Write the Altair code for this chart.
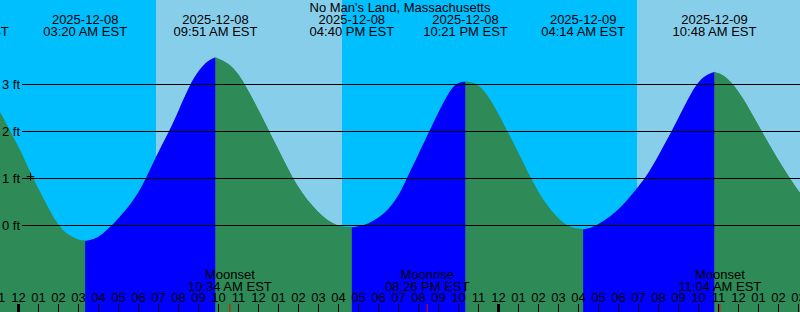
import altair as alt
import pandas as pd

FONT = "Liberation Sans"
TITLE = "No Man's Land, Massachusetts"

# hours after 2025-12-08 00:00 EST
X_DOMAIN = [-0.925, 39.075]
Y_DOMAIN = [-1.8404, 4.7979]   # feet

# tide extremes
ext_hours = [-2.6, 3.333, 9.85, 16.667, 22.35, 28.233, 34.8]
ext_dates = ["2025-12-07", "2025-12-08", "2025-12-08", "2025-12-08",
             "2025-12-08", "2025-12-09", "2025-12-09"]
ext_times = ["09:24 PM EST", "03:20 AM EST", "09:51 AM EST", "04:40 PM EST",
             "10:21 PM EST", "04:14 AM EST", "10:48 AM EST"]

# tide curve readings (hours, feet), one list per rising / falling stretch
seg_a_t = [-2.6, -2.0, -1.0, -0.425, 0.0, 0.725, 1.0, 1.925, 2.5, 3.0, 3.333]
seg_a_h = [3.10, 3.03, 2.51, 2.0, 1.68, 1.0, 0.78, 0.0, -0.21, -0.31, -0.33]
seg_b_t = [3.333, 3.8, 4.2, 4.66, 5.0, 5.575, 6.0, 6.375, 6.825, 7.54, 8.0, 8.575, 9.0, 9.5, 9.85]
seg_b_h = [-0.33, -0.29, -0.19, 0.0, 0.15, 0.43, 0.70, 1.0, 1.43, 2.0, 2.44, 3.0, 3.30, 3.52, 3.58]
seg_c_t = [9.85, 10.5, 11.0, 11.325, 12.075, 12.54, 13.0, 13.71, 14.2, 14.7, 15.2, 15.7, 16.2, 16.667]
seg_c_h = [3.58, 3.46, 3.22, 3.0, 2.40, 2.0, 1.61, 1.0, 0.68, 0.41, 0.19, 0.04, -0.03, -0.04]
seg_d_t = [16.667, 17.2, 17.7, 18.2, 18.575, 19.075, 19.41, 20.0, 20.54, 21.0, 21.5, 21.825, 22.1, 22.35]
seg_d_h = [-0.04, -0.01, 0.08, 0.23, 0.38, 0.68, 1.0, 1.52, 2.0, 2.42, 2.82, 3.0, 3.05, 3.06]
seg_e_t = [22.35, 22.65, 22.94, 23.3, 23.7, 24.1, 24.44, 25.075, 25.62, 26.0, 26.5, 27.0, 27.41, 27.8, 28.233]
seg_e_h = [3.06, 3.045, 3.0, 2.86, 2.6, 2.29, 2.0, 1.48, 1.0, 0.70, 0.38, 0.14, 0.0, -0.06, -0.085]
seg_f_t = [28.233, 28.55, 28.875, 29.4, 29.9, 30.4, 30.925, 31.325, 31.7, 32.075, 32.66, 33.3, 33.875, 34.3, 34.8]
seg_f_h = [-0.085, -0.06, 0.0, 0.13, 0.30, 0.52, 0.79, 1.0, 1.26, 1.55, 2.0, 2.55, 3.0, 3.19, 3.27]
seg_g_t = [34.8, 35.2, 35.775, 36.5, 37.16, 37.9, 38.575, 39.075, 39.6, 40.3, 41.2]
seg_g_h = [3.27, 3.22, 3.0, 2.52, 2.0, 1.45, 1.0, 0.685, 0.42, 0.12, -0.05]

segments = [(seg_a_t, seg_a_h), (seg_b_t, seg_b_h), (seg_c_t, seg_c_h), (seg_d_t, seg_d_h),
            (seg_e_t, seg_e_h), (seg_f_t, seg_f_h), (seg_g_t, seg_g_h)]

# daylight
sunrise_hours = [6.875, 30.925]
sunset_hours = [16.175, 40.2]

# moon
moon_events = ["Moonset", "Moonrise", "Moonset"]
moon_times = ["10:34 AM EST", "08:26 PM EST", "11:04 AM EST"]
moon_hours = [10.567, 20.433, 35.067]

# current level marker
now_hour = [0.6]
now_level = [1.04]

grid_ft = [0, 1, 2, 3]
grid_labels = ["0 ft", "1 ft", "2 ft", "3 ft"]

tick_hours = list(range(-1, 40))
tick_labels = ["%02d" % (((h % 24) + 11) % 12 + 1) for h in tick_hours]
midnight_hours = [0, 24]

# ---------------------------------------------------------------
xs = alt.Scale(domain=X_DOMAIN, nice=False, zero=False)
ys = alt.Scale(domain=Y_DOMAIN, nice=False, zero=False)

rows = []
for i, (ts, hs) in enumerate(segments):
    phase = "rising" if hs[-1] > hs[0] else "falling"
    for t, h in zip(ts, hs):
        rows.append({"seg": i, "phase": phase, "t": t, "h": h})
curve = pd.DataFrame(rows)
base = curve.drop_duplicates(subset="t").sort_values("t")

day_df = pd.DataFrame({"start": sunrise_hours, "end": sunset_hours})
ext_df = pd.DataFrame({"t": ext_hours, "date": ext_dates, "time": ext_times})
moon_df = pd.DataFrame({"t": moon_hours, "ev": moon_events, "time": moon_times})
grid_df = pd.DataFrame({"ft": grid_ft, "label": grid_labels})
tick_df = pd.DataFrame({"t": tick_hours, "label": tick_labels})
reg_tick_df = tick_df[~tick_df["t"].isin(midnight_hours)]
mid_df = pd.DataFrame({"t": midnight_hours})
now_df = pd.DataFrame({"t": now_hour, "h": now_level})
title_df = pd.DataFrame({"title": [TITLE]})

X = lambda f: alt.X(f, scale=xs, axis=None)
Y = lambda f: alt.Y(f, scale=ys, axis=None, stack=None)

day = alt.Chart(day_df).mark_rect(color="#87CEEB", clip=True).encode(
    x=X("start:Q"), x2="end:Q", y=alt.value(0), y2=alt.value(312))

ground_base = alt.Chart(base).mark_area(
    interpolate="basis", color="#2E8B57", clip=True).encode(
    x=X("t:Q"), y=Y("h:Q"), y2=alt.value(312))

ground = alt.Chart(curve).mark_area(interpolate="basis", clip=True).encode(
    x=X("t:Q"), y=Y("h:Q"), y2=alt.value(312),
    color=alt.Color("phase:N", scale=alt.Scale(domain=["rising", "falling"],
                                                range=["#0000FF", "#2E8B57"]), legend=None),
    detail="seg:N")

grid = alt.Chart(grid_df).mark_rule(color="black", strokeWidth=1).encode(
    y=Y("ft:Q"), x=alt.value(22), x2=alt.value(800))

grid_text = alt.Chart(grid_df).mark_text(
    align="left", baseline="alphabetic", dy=4, font=FONT, fontSize=13, color="black").encode(
    y=Y("ft:Q"), x=alt.value(2), text="label:N")

now = alt.Chart(now_df).mark_point(
    shape="M-1,0L1,0M0,-1L0,1", size=58, filled=False, stroke="black",
    strokeWidth=1, opacity=1).encode(x=X("t:Q"), y=Y("h:Q"))

title = alt.Chart(title_df).mark_text(
    align="center", baseline="alphabetic", font=FONT, fontSize=13, color="black").encode(
    x=alt.value(400), y=alt.value(12), text="title:N")

ext_date = alt.Chart(ext_df).mark_text(
    align="center", baseline="alphabetic", font=FONT, fontSize=13, color="black").encode(
    x=X("t:Q"), y=alt.value(24), text="date:N")
ext_time = alt.Chart(ext_df).mark_text(
    align="center", baseline="alphabetic", font=FONT, fontSize=13, color="black").encode(
    x=X("t:Q"), y=alt.value(36), text="time:N")

moon_ev = alt.Chart(moon_df).mark_text(
    align="center", baseline="alphabetic", font=FONT, fontSize=13, color="black").encode(
    x=X("t:Q"), y=alt.value(278.5), text="ev:N")
moon_tm = alt.Chart(moon_df).mark_text(
    align="center", baseline="alphabetic", font=FONT, fontSize=13, color="black").encode(
    x=X("t:Q"), y=alt.value(290.5), text="time:N")

hour_text = alt.Chart(tick_df).mark_text(
    align="center", baseline="alphabetic", font=FONT, fontSize=13, color="black").encode(
    x=X("t:Q"), y=alt.value(302), text="label:N")

reg_ticks = alt.Chart(reg_tick_df).mark_rule(color="black", strokeWidth=1).encode(
    x=X("t:Q"), y=alt.value(304), y2=alt.value(312))
mid_ticks = alt.Chart(mid_df).mark_rule(color="black", strokeWidth=3).encode(
    x=X("t:Q"), y=alt.value(304), y2=alt.value(312))
moon_ticks = alt.Chart(moon_df).mark_rule(color="#FF0000", strokeWidth=1).encode(
    x=X("t:Q"), y=alt.value(304), y2=alt.value(312))

chart = alt.layer(
    day, ground_base, ground, grid, grid_text, now, title, ext_date, ext_time,
    moon_ev, moon_tm, hour_text, reg_ticks, mid_ticks, moon_ticks
).properties(
    width=800, height=312, padding=0, background="#00BFFF",
    autosize=alt.AutoSizeParams(type="none")
).configure_view(stroke=None, fill="#00BFFF")

chart.save("out.html", embed_options={"renderer": "svg", "actions": False})
